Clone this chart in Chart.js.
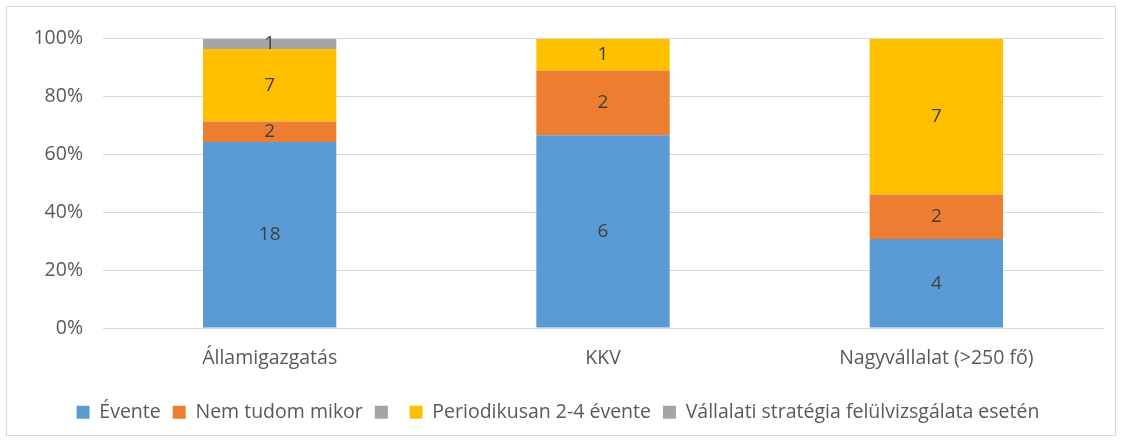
<!DOCTYPE html>
<html>
<head>
<meta charset="utf-8">
<script src="https://cdn.jsdelivr.net/npm/chart.js@4.4.0/dist/chart.umd.min.js"></script>
<style>
  html, body { margin: 0; padding: 0; background: #fff; }
  #wrap { position: absolute; left: 6px; top: 6px; width: 1110px; height: 430px; border: 1px solid #d9d9d9; box-sizing: border-box; }
  canvas { display: block; }
</style>
</head>
<body>
<div id="wrap"><canvas id="barChart"></canvas></div>
<script>
// categories and counts
var categories = ['Államigazgatás', 'KKV', 'Nagyvállalat (>250 fő)'];
var seriesNames = ['Évente', 'Nem tudom mikor', '', 'Periodikusan 2-4 évente', 'Vállalati stratégia felülvizsgálata esetén'];
var evente = [18, 6, 4];
var nemTudom = [2, 2, 2];
var ures = [0, 0, 0];
var periodikusan = [7, 1, 7];
var vallalati = [1, 0, 0];
var yTicks = [0, 20, 40, 60, 80, 100];

var counts = [evente, nemTudom, ures, periodikusan, vallalati];
var colors = ['#5B9BD5', '#ED7D31', '#A5A5A5', '#FFC000', '#A5A5A5'];
var fontFamily = '"Open Sans", sans-serif';

// totals per category, to turn counts into shares
var totals = categories.map(function(c, i) {
    return counts.reduce(function(s, arr) { return s + arr[i]; }, 0);
});

var datasets = counts.map(function(arr, k) {
    return {
        label: seriesNames[k],
        data: arr.map(function(v, i) { return v / totals[i] * 100; }),
        counts: arr,
        backgroundColor: colors[k],
        borderWidth: 0,
        categoryPercentage: 1,
        barPercentage: 0.4
    };
});

// draws the count in the middle of each segment
var segmentLabels = {
    id: 'segmentLabels',
    afterDatasetsDraw: function(chart) {
        var ctx = chart.ctx;
        ctx.save();
        ctx.font = '19px ' + fontFamily;
        ctx.fillStyle = '#404040';
        ctx.textAlign = 'center';
        ctx.textBaseline = 'middle';
        chart.data.datasets.forEach(function(ds, k) {
            var meta = chart.getDatasetMeta(k);
            meta.data.forEach(function(el, i) {
                var v = ds.counts[i];
                if (!v) return;
                ctx.fillText(String(v), el.x, (el.y + el.base) / 2);
            });
        });
        ctx.restore();
    }
};

var ctx = document.getElementById('barChart').getContext('2d');
var barChart = new Chart(ctx, {
    type: 'bar',
    data: {
        labels: categories,
        datasets: datasets
    },
    plugins: [segmentLabels],
    options: {
        responsive: true,
        maintainAspectRatio: false,
        animation: false,
        layout: { padding: { left: 6, right: 12, top: 26, bottom: 3 } },
        plugins: {
            legend: {
                position: 'bottom',
                labels: {
                    boxWidth: 13,
                    boxHeight: 13,
                    padding: 12,
                    color: '#595959',
                    font: { family: fontFamily, size: 19.5 }
                }
            },
            tooltip: { enabled: false }
        },
        scales: {
            x: {
                stacked: true,
                grid: { display: false },
                border: { color: '#d9d9d9', width: 1 },
                afterFit: function(scale) { scale.height += 9; },
                ticks: {
                    color: '#595959',
                    padding: 11,
                    font: { family: fontFamily, size: 19.5 }
                }
            },
            y: {
                stacked: true,
                min: 0,
                max: 100,
                afterFit: function(scale) { scale.width = 90; },
                afterBuildTicks: function(scale) {
                    scale.ticks = yTicks.map(function(v) { return { value: v }; });
                },
                grid: { color: '#d9d9d9', drawTicks: false },
                border: { display: false },
                ticks: {
                    color: '#595959',
                    padding: 20,
                    font: { family: fontFamily, size: 19.5 },
                    callback: function(v) { return v + '%'; }
                }
            }
        }
    }
});
</script>
</body>
</html>
